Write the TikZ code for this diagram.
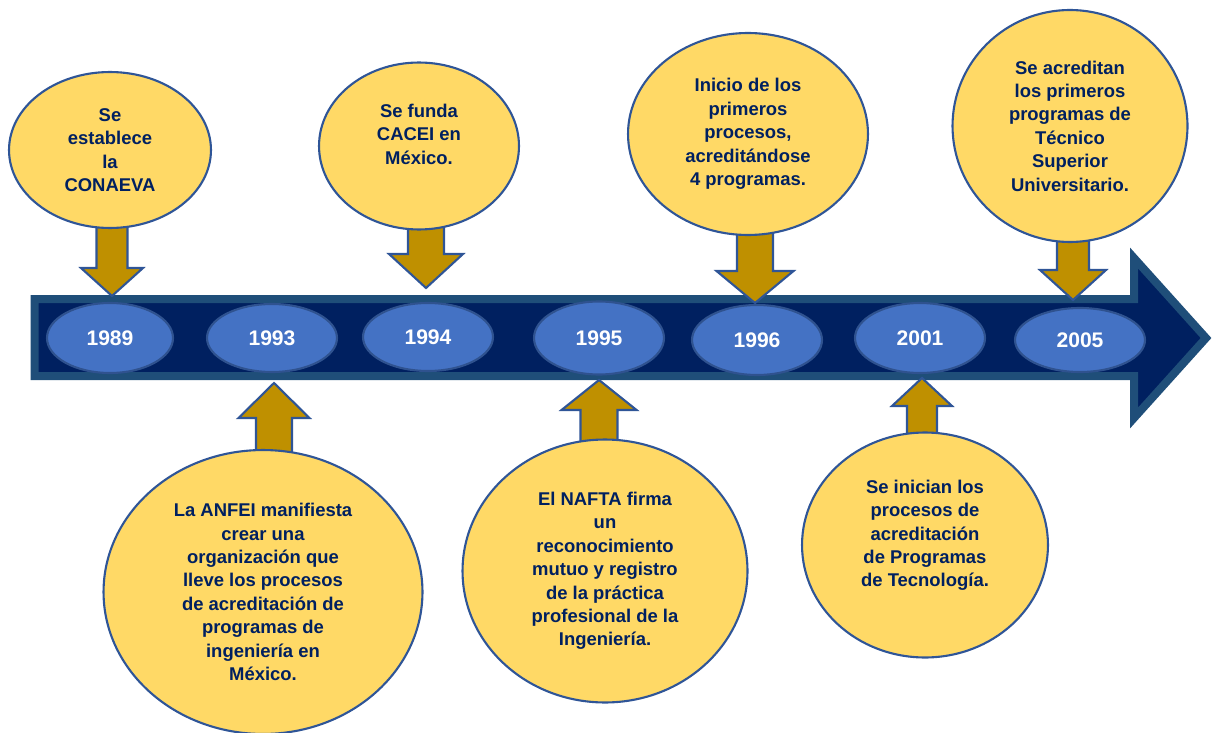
\documentclass[tikz,border=0pt]{standalone}
\usepackage{fontspec}
\setmainfont{Liberation Sans}
\usetikzlibrary{shapes.geometric}
\definecolor{amarillo}{HTML}{FFD966}
\definecolor{borde}{HTML}{2F5597}
\definecolor{oro}{HTML}{BF9000}
\definecolor{marino}{HTML}{002060}
\definecolor{acero}{HTML}{1F4E79}
\definecolor{azulanio}{HTML}{4472C4}
\definecolor{bordeanio}{HTML}{2F528F}
% x, y inicio, y base de la punta, y punta, medio cuerpo, media punta
\newcommand{\flecha}[6]{%
	\draw[flechaoro] ({#1-#5},#2) -- ({#1+#5},#2) -- ({#1+#5},#3) -- ({#1+#6},#3)
	-- (#1,#4) -- ({#1-#6},#3) -- ({#1-#5},#3) -- cycle;}

\begin{document}
\begin{tikzpicture}[x=0.02cm, y=-0.02cm,
	hito/.style={ellipse, fill=amarillo, draw=borde, line width=1.2pt, text=marino,
		align=center, inner sep=0pt, font=\fontsize{10.5}{13.3}\selectfont\bfseries},
	anio/.style={ellipse, fill=azulanio, draw=bordeanio, line width=1.2pt, text=white,
		inner sep=0pt, minimum width=2.6cm, minimum height=1.4cm,
		font=\fontsize{12}{14}\selectfont\bfseries},
	flechaoro/.style={fill=oro, draw=borde, line width=1.2pt, line join=miter},
	eje/.style={fill=marino, draw=acero, line width=0.16cm, line join=miter}]
	\useasboundingbox (0,0) rectangle (1213,733);
	\draw[eje] (34.7,299) -- (1134,299) -- (1134,258) -- (1206,338) -- (1134,418)
		-- (1134,376) -- (34.7,376) -- cycle;
	\node[anio, minimum width=2.52cm] (a1989) at (110,338) {1989};
	\node[anio, minimum height=1.36cm] (a1993) at (272,338) {1993};
	\node[anio, minimum height=1.36cm] (a1994) at (428,337) {1994};
	\node[anio, minimum height=1.46cm] (a1995) at (599,338) {1995};
	\node[anio] (a1996) at (757,340) {1996};
	\node[anio] (a2001) at (920,338) {2001};
	\node[anio, minimum height=1.28cm] (a2005) at (1080,340) {2005};
	\flecha{112}{225}{268}{296}{15.5}{31}
	\flecha{426}{225}{254}{288}{18}{37}
	\flecha{755}{230}{271}{303}{18}{38.5}
	\flecha{1073}{235}{270}{300}{16}{33}
	\flecha{274}{455}{418}{383}{18}{35.5}
	\flecha{599}{445}{410}{380}{18.5}{37.5}
	\flecha{922}{440}{406}{378}{15}{30}
	\node[hito, minimum width=4.04cm, minimum height=3.12cm] (conaeva) at (110,150)
		{Se\\establece\\la\\CONAEVA};
	\node[hito, minimum width=4cm, minimum height=3.34cm] (cacei) at (419,146)
		{Se funda\\CACEI en\\México.\\ \mbox{}};
	\node[hito, minimum width=4.8cm, minimum height=4.04cm] (inicio) at (748,134)
		{Inicio de los\\primeros\\procesos,\\acreditándose\\4 programas.};
	\node[hito, minimum width=4.7cm, minimum height=4.64cm] (tecnico) at (1070,126)
		{Se acreditan\\los primeros\\programas de\\Técnico\\Superior\\Universitario.};
	\node[hito, minimum width=6.38cm, minimum height=5.68cm] (anfei) at (263,592)
		{La ANFEI manifiesta\\crear una\\organización que\\lleve los procesos\\de acreditación de\\programas de\\ingeniería en\\México.};
	\node[hito, minimum width=5.7cm, minimum height=5.26cm] (nafta) at (605,571)
		{El NAFTA firma\\un\\reconocimiento\\mutuo y registro\\de la práctica\\profesional de la\\Ingeniería.};
	\node[hito, minimum width=4.92cm, minimum height=4.5cm] (inician) at (925,545)
		{Se inician los\\procesos de\\acreditación\\de Programas\\de Tecnología.\\ \mbox{}};
\end{tikzpicture}
\end{document}
